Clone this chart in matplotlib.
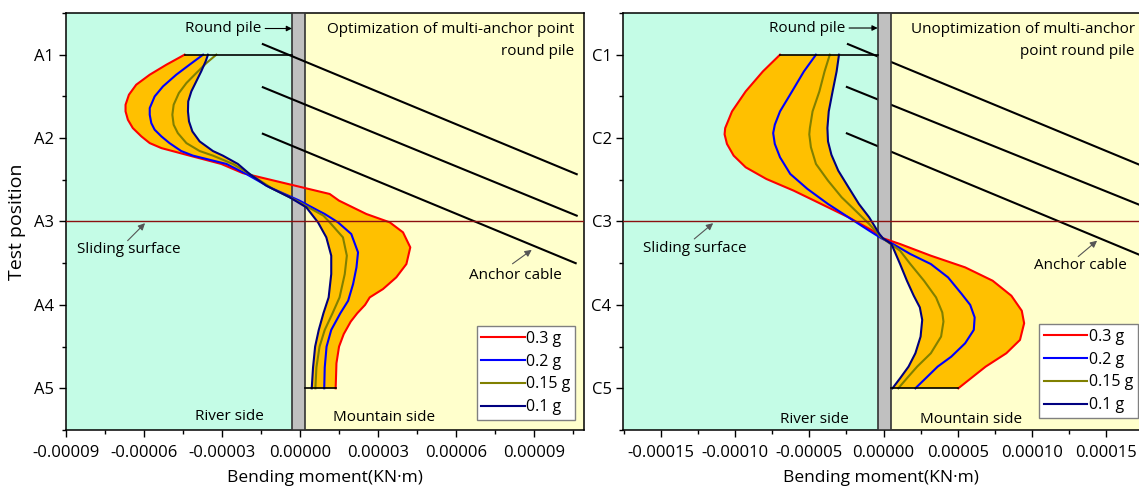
import numpy as np
import matplotlib.pyplot as plt
from matplotlib.ticker import MultipleLocator, FormatStrFormatter

plt.rcParams['font.family'] = ['Open Sans', 'DejaVu Sans']
plt.rcParams['axes.unicode_minus'] = False

UNIT = 1e-5  # bending moments below are in units of 1e-5 KN·m

# ---- left panel: optimized multi-anchor round pile (A1..A5), (y, moment) pairs per curve
a03_y = [1.0, 1.12, 1.24, 1.36, 1.48, 1.60, 1.68, 1.78, 1.88, 1.98, 2.06, 2.12, 2.21, 2.31, 2.42,
         2.67, 2.75, 2.91, 3.01, 3.13, 3.31, 3.51, 3.67, 3.81, 3.91, 4.0, 4.1, 4.2, 4.35, 4.5, 4.7, 5.0]
a03_x = [-4.44, -5.14, -5.78, -6.30, -6.58, -6.71, -6.71, -6.62, -6.43, -6.10, -5.78, -5.33, -4.25, -3.03, -2.20,
         1.14, 1.50, 2.55, 3.45, 3.96, 4.24, 4.09, 3.70, 3.19, 2.68, 2.50, 2.20, 1.95, 1.68, 1.50, 1.40, 1.37]

a02_y = [1.0, 1.12, 1.24, 1.38, 1.50, 1.64, 1.72, 1.82, 1.90, 1.98, 2.06, 2.155, 2.21, 2.31, 2.43,
         2.59, 2.75, 2.87, 2.91, 3.01, 3.15, 3.37, 3.55, 3.75, 3.95, 4.1, 4.3, 4.5, 4.75, 5.0]
a02_x = [-3.73, -4.25, -4.76, -5.27, -5.59, -5.78, -5.78, -5.72, -5.59, -5.33, -5.02, -4.57, -4.12, -2.83, -2.07,
         -1.17, -0.02, 0.70, 0.95, 1.46, 1.97, 2.23, 2.17, 2.04, 1.85, 1.55, 1.20, 1.02, 0.95, 0.93]

a015_y = [1.0, 1.10, 1.22, 1.34, 1.46, 1.60, 1.72, 1.84, 1.94, 2.06, 2.155, 2.21, 2.31, 2.43,
          2.61, 2.75, 2.93, 3.01, 3.19, 3.41, 3.63, 3.91, 4.1, 4.3, 4.5, 4.75, 5.0]
a015_x = [-3.22, -3.60, -3.99, -4.37, -4.66, -4.86, -4.91, -4.86, -4.70, -4.37, -3.86, -3.35, -2.58, -1.94,
          -1.04, -0.14, 0.90, 1.14, 1.65, 1.80, 1.72, 1.52, 1.25, 0.95, 0.75, 0.63, 0.59]

a01_y = [1.0, 1.08, 1.20, 1.32, 1.44, 1.56, 1.68, 1.80, 1.92, 2.04, 2.155, 2.21, 2.31, 2.43,
         2.57, 2.71, 2.83, 3.01, 3.19, 3.41, 3.63, 3.91, 4.1, 4.3, 4.5, 4.75, 5.0]
a01_x = [-3.54, -3.63, -3.80, -3.99, -4.18, -4.30, -4.31, -4.27, -4.14, -3.86, -3.35, -2.97, -2.39, -1.94,
         -1.30, -0.40, 0.24, 0.69, 1.01, 1.20, 1.20, 1.10, 0.90, 0.72, 0.58, 0.50, 0.45]

# ---- right panel: unoptimized multi-anchor round pile (C1..C5)
c03_y = [1.0, 1.20, 1.44, 1.68, 1.88, 1.955, 2.07, 2.21, 2.35, 2.49, 2.63, 2.79, 2.95, 3.11, 3.20,
         3.27, 3.41, 3.55, 3.71, 3.89, 4.07, 4.22, 4.42, 4.58, 4.74, 5.0]
c03_x = [-6.97, -8.12, -9.28, -10.2, -10.66, -10.7, -10.54, -10.09, -9.28, -7.89, -6.05, -4.2, -2.36, -0.74, -0.05,
         1.11, 3.18, 5.49, 7.34, 8.6, 9.3, 9.46, 9.18, 8.26, 6.87, 5.03]

c02_y = [1.0, 1.20, 1.44, 1.68, 1.84, 1.94, 2.07, 2.23, 2.43, 2.61, 2.79, 2.95, 3.11, 3.20,
         3.27, 3.39, 3.51, 3.67, 3.87, 4.0, 4.15, 4.30, 4.46, 4.62, 4.74, 4.86, 5.0]
c02_x = [-4.55, -5.36, -6.16, -6.97, -7.32, -7.43, -7.32, -6.97, -6.28, -5.12, -3.74, -2.36, -0.97, -0.16,
         0.64, 1.8, 3.18, 4.34, 5.26, 5.83, 6.13, 6.07, 5.49, 4.56, 3.64, 2.95, 2.14]

c015_y = [1.0, 1.20, 1.44, 1.68, 1.88, 1.955, 2.11, 2.31, 2.51, 2.71, 2.87, 3.03, 3.19,
          3.35, 3.51, 3.71, 3.91, 4.09, 4.20, 4.38, 4.58, 4.74, 4.88, 5.0]
c015_x = [-3.62, -3.97, -4.32, -4.78, -4.96, -5.0, -4.89, -4.55, -3.74, -2.82, -1.89, -0.97, -0.16,
          1.11, 1.8, 2.72, 3.53, 3.95, 4.03, 3.87, 3.18, 2.26, 1.57, 0.99]

c01_y = [1.0, 1.20, 1.44, 1.68, 1.88, 2.04, 2.20, 2.39, 2.59, 2.79, 2.95, 3.15, 3.20,
         3.27, 3.51, 3.71, 3.89, 4.03, 4.18, 4.38, 4.58, 4.74, 4.88, 5.0]
c01_x = [-3.0, -3.16, -3.43, -3.69, -3.78, -3.74, -3.51, -3.05, -2.36, -1.66, -0.97, -0.28, -0.05,
         0.53, 1.11, 1.57, 2.03, 2.44, 2.6, 2.49, 2.14, 1.68, 1.11, 0.6]

labels = ['0.3 g', '0.2 g', '0.15 g', '0.1 g']
colors = ['#FF0000', '#0000FF', '#808000', '#000080']
ticks_a = ['A1', 'A2', 'A3', 'A4', 'A5']
ticks_c = ['C1', 'C2', 'C3', 'C4', 'C5']

# anchor cables: (x0, y0, x1, y1) in 1e-5 units / test position
cables_a = [(-1.43, 0.873, 10.64, 2.433), (-1.43, 1.39, 10.64, 2.93), (-1.43, 1.948, 10.6, 3.50)]
cables_c = [(-2.40, 0.873, 17.5, 2.34), (-2.47, 1.387, 17.5, 2.82), (-2.47, 1.943, 17.5, 3.42)]

CYAN = '#C4FCE6'
YELLOW = '#FFFFCC'
ORANGE = '#FFC000'
PILE = '#C0C0C0'
SLIDE = '#8B1010'
FS = 11


def panel(ax, curves, ticklabels, xlim, pile, cables, cables_on_top, major, minor):
    pl, pr = pile[0] * UNIT, pile[1] * UNIT
    ax.axvspan(xlim[0] * UNIT, pl, color=CYAN, lw=0, zorder=0)
    ax.axvspan(pr, xlim[1] * UNIT, color=YELLOW, lw=0, zorder=0)
    ax.axvspan(pl, pr, facecolor=PILE, edgecolor='#333333', lw=1.2, zorder=3)

    red_y, red_x = curves[0][0], np.array(curves[0][1]) * UNIT
    nav_y, nav_x = curves[3][0], np.array(curves[3][1]) * UNIT
    ax.fill(np.r_[red_x, nav_x[::-1]], np.r_[red_y, nav_y[::-1]], color=ORANGE, lw=0, zorder=1)
    for (yy, xx), c, lab in zip(curves, colors, labels):
        ax.plot(np.array(xx) * UNIT, yy, color=c, lw=1.5, label=lab, zorder=4,
                solid_joinstyle='round')
    # closing lines at top and bottom of the pile
    ax.plot([red_x[0], pl], [1, 1], color='black', lw=1.2, zorder=4)
    ax.plot([pr, red_x[-1]], [5, 5], color='black', lw=1.2, zorder=4)

    zc = 5 if cables_on_top else 2
    for x0, y0, x1, y1 in cables:
        ax.plot([x0 * UNIT, x1 * UNIT], [y0, y1], color='black', lw=1.5, zorder=zc)

    ax.axhline(3, color=SLIDE, lw=1.0, zorder=6)

    ax.set_xlim(xlim[0] * UNIT, xlim[1] * UNIT)
    ax.set_ylim(5.5, 0.5)
    ax.set_yticks([1, 2, 3, 4, 5])
    ax.set_yticklabels(ticklabels)
    ax.yaxis.set_minor_locator(MultipleLocator(0.5))
    ax.xaxis.set_major_locator(MultipleLocator(major * UNIT))
    ax.xaxis.set_minor_locator(MultipleLocator(minor * UNIT))
    ax.xaxis.set_major_formatter(FormatStrFormatter('%.5f'))
    ax.tick_params(which='both', direction='out', top=False, right=False, labelsize=12)
    ax.tick_params(axis='x', pad=6)
    ax.tick_params(which='major', length=5, width=1)
    ax.tick_params(which='minor', length=3, width=1)
    ax.set_xlabel('Bending moment(KN·m)', fontsize=12.5, labelpad=6)
    for s in ax.spines.values():
        s.set_linewidth(1.1)


def arrow(ax, tail, head, color='#555555'):
    ax.annotate('', xy=(head[0] * UNIT, head[1]), xytext=(tail[0] * UNIT, tail[1]),
                arrowprops=dict(arrowstyle='-|>', color=color, lw=0.8,
                                mutation_scale=10, shrinkA=0, shrinkB=0), zorder=7)


fig = plt.figure(figsize=(11.39, 4.9), dpi=100)
ax1 = fig.add_axes([66 / 1139, 60 / 490, 518 / 1139, 417 / 490])
ax2 = fig.add_axes([623.4 / 1139, 60 / 490, 515.6 / 1139, 417 / 490])

panel(ax1, [(a03_y, a03_x), (a02_y, a02_x), (a015_y, a015_x), (a01_y, a01_x)], ticks_a,
      (-9, 10.92), (-0.31, 0.20), cables_a, True, 3, 1.5)
panel(ax2, [(c03_y, c03_x), (c02_y, c02_x), (c015_y, c015_x), (c01_y, c01_x)], ticks_c,
      (-17.51, 17.19), (-0.40, 0.53), cables_c, False, 5, 2.5)
ax2.spines['right'].set_visible(False)
ax1.set_ylabel('Test position', fontsize=14, labelpad=6)

# left annotations
ax1.annotate('Round pile', xy=(-0.31 * UNIT, 0.686), xytext=(-1.5 * UNIT, 0.686),
             ha='right', va='center', fontsize=FS,
             arrowprops=dict(arrowstyle='-|>', color='black', lw=0.8, mutation_scale=8,
                             shrinkA=1, shrinkB=0), zorder=7)
ax1.text(10.56 * UNIT, 0.61, 'Optimization of multi-anchor point\nround pile', ha='right',
         va='top', fontsize=FS, linespacing=1.6, multialignment='right', zorder=7)
ax1.text(-6.57 * UNIT, 3.33, 'Sliding surface', ha='center', va='center', fontsize=FS, zorder=7)
arrow(ax1, (-6.63, 3.23), (-5.96, 3.02))
ax1.text(8.27 * UNIT, 3.647, 'Anchor cable', ha='center', va='center', fontsize=FS, zorder=7)
arrow(ax1, (8.17, 3.507), (8.91, 3.34))
ax1.text(-2.73 * UNIT, 5.34, 'River side', ha='center', va='center', fontsize=FS, zorder=7)
ax1.text(3.25 * UNIT, 5.35, 'Mountain side', ha='center', va='center', fontsize=FS, zorder=7)

# right annotations
ax2.annotate('Round pile', xy=(-0.40 * UNIT, 0.68), xytext=(-2.6 * UNIT, 0.68),
             ha='right', va='center', fontsize=FS,
             arrowprops=dict(arrowstyle='-|>', color='black', lw=0.8, mutation_scale=8,
                             shrinkA=1, shrinkB=0), zorder=7)
ax2.text(16.9 * UNIT, 0.61, 'Unoptimization of multi-anchor\npoint round pile', ha='right',
         va='top', fontsize=FS, linespacing=1.6, multialignment='right', zorder=7)
ax2.text(-12.69 * UNIT, 3.325, 'Sliding surface', ha='center', va='center', fontsize=FS, zorder=7)
arrow(ax2, (-12.74, 3.209), (-11.47, 3.02))
ax2.text(13.26 * UNIT, 3.528, 'Anchor cable', ha='center', va='center', fontsize=FS, zorder=7)
arrow(ax2, (13.1, 3.42), (14.37, 3.23))
ax2.text(-4.62 * UNIT, 5.37, 'River side', ha='center', va='center', fontsize=FS, zorder=7)
ax2.text(5.9 * UNIT, 5.37, 'Mountain side', ha='center', va='center', fontsize=FS, zorder=7)

for ax, anchor in [(ax1, (0.983, 0.024)), (ax2, (0.998, 0.029))]:
    leg = ax.legend(loc='lower right', bbox_to_anchor=anchor, fontsize=11.5,
                    handlelength=2.7, handletextpad=0.1, labelspacing=0.42,
                    borderpad=0.3, borderaxespad=0, fancybox=False, framealpha=1)
    leg.get_frame().set_edgecolor('#808080')
    leg.get_frame().set_linewidth(1.0)
    leg.set_zorder(8)

fig.savefig('out.png', dpi=100)
